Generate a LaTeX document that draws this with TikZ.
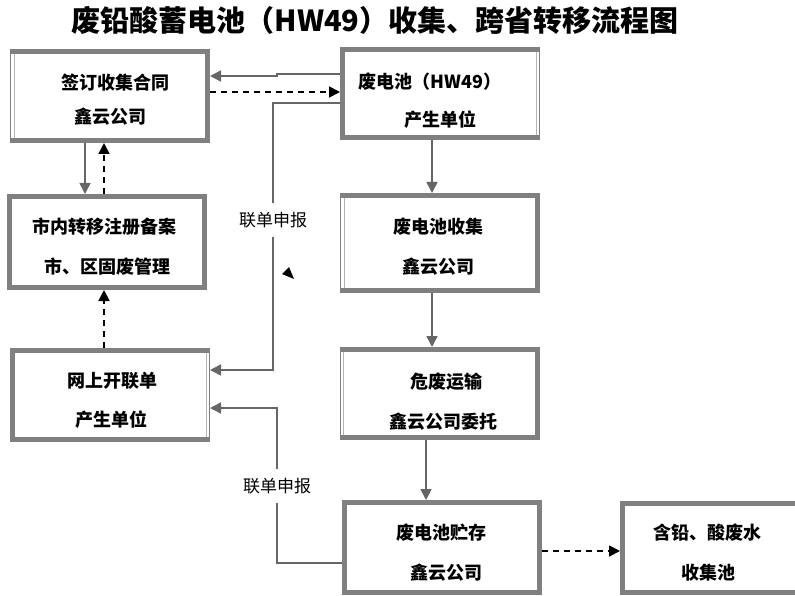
\documentclass[tikz,border=0pt]{standalone}
\usepackage{fontspec}
\newfontfamily\cjk{Noto Sans CJK SC}
\usetikzlibrary{arrows.meta}
\definecolor{boxgray}{RGB}{128,128,128}
\definecolor{linegray}{RGB}{102,102,102}
\newcommand\thinL[1]{%
  \fill[white] ([yshift=-5pt]#1.north west) rectangle ([xshift=5pt,yshift=5pt]#1.south west);
  \draw[boxgray,line width=0.9pt] ([xshift=0.6pt]#1.north west) -- ([xshift=0.6pt]#1.south west);
  \draw[boxgray!60,line width=0.9pt] ([xshift=4pt,yshift=-5pt]#1.north west) -- ([xshift=4pt,yshift=5pt]#1.south west);}
\newcommand\thinR[1]{%
  \fill[white] ([yshift=-5pt]#1.north east) rectangle ([xshift=-5pt,yshift=5pt]#1.south east);
  \draw[boxgray,line width=0.9pt] ([xshift=-0.6pt]#1.north east) -- ([xshift=-0.6pt]#1.south east);
  \draw[boxgray!60,line width=0.9pt] ([xshift=-4pt,yshift=-5pt]#1.north east) -- ([xshift=-4pt,yshift=5pt]#1.south east);}
\begin{document}
\begin{tikzpicture}[x=1pt,y=-1pt,
  box/.style={draw=boxgray,line width=5pt,fill=white,minimum width=195pt,inner sep=0pt},
  txt/.style={font=\cjk\bfseries\fontsize{18}{18}\selectfont,inner sep=0pt},
  lbl/.style={font=\cjk\fontsize{17}{17}\selectfont,fill=white,inner sep=0pt,minimum height=34pt},
  garrow/.style={draw=linegray,line width=1.6pt,-{Triangle[length=11pt,width=11pt]}},
  darrow/.style={draw=black,line width=1.8pt,dash pattern=on 6pt off 5pt,-{Triangle[length=11pt,width=11pt]}},
]
\useasboundingbox (0,0) rectangle (795,596);
\clip (0,0) rectangle (795,596);
\node[font=\cjk\bfseries\fontsize{29}{29}\selectfont,inner sep=0pt] (title) at (375,20) {废铅酸蓄电池（HW49）收集、跨省转移流程图};

\node[box,minimum height=89pt] (b1) at (110,96) {};
\node[box,minimum height=88pt] (b2) at (440,93.5) {};
\node[box,minimum height=91pt] (b3) at (107,242) {};
\node[box,minimum height=95pt] (b4) at (440,243) {};
\node[box,minimum height=89pt] (b5) at (110,395) {};
\node[box,minimum height=88pt] (b6) at (439.5,393.5) {};
\node[box,minimum height=90pt] (b7) at (441.5,547.5) {};
\node[box,minimum height=89pt] (b8) at (720,548) {};
\thinL{b1}
\thinR{b2}
\thinL{b4}
\thinR{b5}
\thinL{b6}

\node[txt] (t1a) at (115,83) {签订收集合同};
\node[txt] (t1b) at (110,117) {鑫云公司};
\node[txt] (t2a) at (430,82) {废电池（HW49）};
\node[txt] (t2b) at (440,120) {产生单位};
\node[txt] (t3a) at (104,227) {市内转移注册备案};
\node[txt] (t3b) at (107,267) {市、区固废管理};
\node[txt] (t4a) at (438,227) {废电池收集};
\node[txt] (t4b) at (438,267) {鑫云公司};
\node[txt] (t5a) at (112,381) {网上开联单};
\node[txt] (t5b) at (111,420) {产生单位};
\node[txt] (t6a) at (446,382) {危废运输};
\node[txt] (t6b) at (443,422) {鑫云公司委托};
\node[txt] (t7a) at (441,533) {废电池贮存};
\node[txt] (t7b) at (446,573) {鑫云公司};
\node[txt] (t8a) at (707,533) {含铅、酸废水};
\node[txt] (t8b) at (708,573) {收集池};

\draw[garrow] (b2.west |- 0,74) -- (277,74) -- (277,76) -- (b1.east |- 0,76);
\draw[darrow] (b1.east |- 0,92) -- (b2.west |- 0,92);
\draw[garrow] (b2.west |- 0,103) -- (273,103) -- (273,370) -- (b5.east |- 0,370);
\node[lbl] (l1) at (273,220) {联单申报};
\fill (282,274) -- (289,267) -- (294,279) -- cycle;
\draw[garrow] (b1.south -| 85,0) -- (b3.north -| 85,0);
\draw[darrow] (b3.north -| 104,0) -- (b1.south -| 104,0);
\draw[darrow] (b5.north -| 104,0) -- (b3.south -| 104,0);
\draw[garrow] (b2.south -| 432,0) -- (b4.north -| 432,0);
\draw[garrow] (b4.south -| 432,0) -- (b6.north -| 432,0);
\draw[garrow] (b6.south -| 426,0) -- (b7.north -| 426,0);
\draw[garrow] (b7.west |- 0,563) -- (277,563) -- (277,408) -- (b5.east |- 0,408);
\node[lbl] (l2) at (277,486) {联单申报};
\draw[darrow] (b7.east |- 0,551) -- (b8.west |- 0,551);
\end{tikzpicture}
\end{document}
